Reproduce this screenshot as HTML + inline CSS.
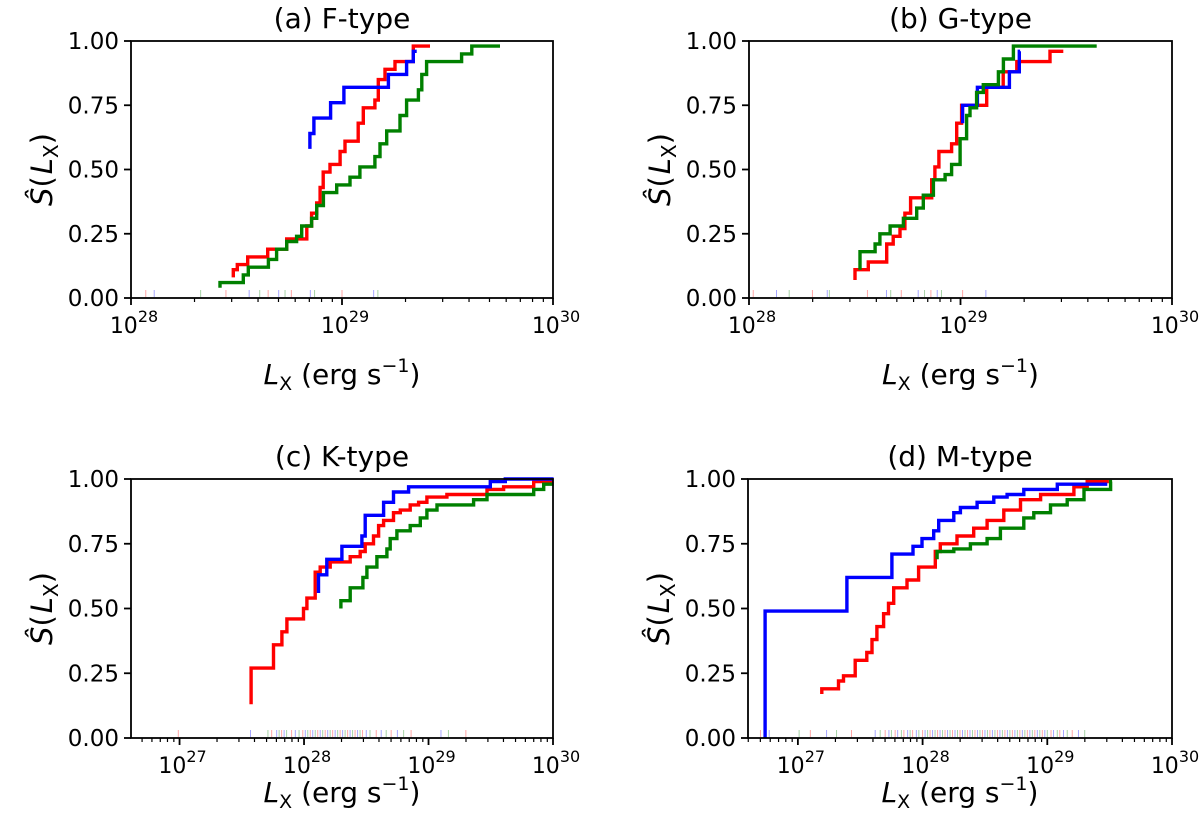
<!DOCTYPE html>
<html><head><meta charset="utf-8"><style>
html,body{margin:0;padding:0;background:#fff;}
svg{display:block;font-family:"DejaVu Sans","Liberation Sans",sans-serif;}
</style></head><body>
<svg id="fig" width="1200" height="831" viewBox="0 0 1200 831"></svg>
<script>
// ---- data (x values are log10 L_X; S values are survival estimates) ----
const aRedX=[28.485,28.504,28.553,28.648,28.738,28.833,28.856,28.880,28.896,28.911,28.943,28.991,29.014,29.077,29.101,29.156,29.172,29.204,29.251,29.338,29.417];
const aRedS=[0.08,0.13,0.16,0.19,0.23,0.28,0.33,0.37,0.43,0.49,0.52,0.57,0.61,0.68,0.74,0.77,0.85,0.89,0.92,0.98];
const aBlueX=[28.848,28.867,28.946,29.009,29.220,29.306,29.338,29.354];
const aBlueS=[0.58,0.70,0.76,0.82,0.87,0.92,0.96];
const aGreenX=[28.422,28.532,28.556,28.651,28.690,28.738,28.785,28.809,28.856,28.880,28.912,28.975,29.038,29.085,29.156,29.180,29.212,29.275,29.306,29.362,29.378,29.401,29.567,29.615,29.749];
const aGreenS=[0.04,0.09,0.12,0.15,0.19,0.22,0.24,0.28,0.31,0.36,0.41,0.44,0.47,0.51,0.55,0.60,0.65,0.71,0.77,0.81,0.87,0.92,0.95,0.98];
const bRedX=[28.501,28.564,28.651,28.682,28.714,28.737,28.764,28.864,28.879,28.898,28.958,28.982,29.005,29.124,29.202,29.266,29.423,29.486];
const bRedS=[0.07,0.14,0.21,0.24,0.27,0.33,0.39,0.46,0.51,0.57,0.60,0.68,0.75,0.82,0.88,0.92,0.96];
const bBlueX=[29.010,29.080,29.231,29.278,29.282];
const bBlueS=[0.68,0.82,0.88,0.96];
const bGreenX=[28.525,28.596,28.619,28.667,28.730,28.793,28.824,28.872,28.927,28.958,28.998,29.029,29.045,29.076,29.108,29.179,29.203,29.250,29.313,29.644];
const bGreenS=[0.11,0.21,0.25,0.28,0.31,0.35,0.40,0.46,0.48,0.52,0.62,0.71,0.74,0.80,0.83,0.88,0.93,0.98,0.98];
const cRedX=[27.575,27.755,27.822,27.862,27.996,28.023,28.090,28.130,28.210,28.371,28.451,28.491,28.558,28.599,28.639,28.719,28.773,28.853,28.920,28.987,29.148,29.470,29.603,29.845,30.005];
const cRedS=[0.13,0.36,0.41,0.46,0.50,0.54,0.64,0.66,0.68,0.70,0.72,0.75,0.78,0.82,0.84,0.87,0.88,0.90,0.91,0.93,0.94,0.96,0.97,0.99];
const cBlueX=[28.116,28.183,28.304,28.465,28.491,28.639,28.719,28.840,29.496,29.617,30.005];
const cBlueS=[0.56,0.69,0.74,0.78,0.86,0.91,0.95,0.97,0.99,1.00];
const cGreenX=[28.296,28.371,28.473,28.505,28.585,28.666,28.692,28.746,28.853,28.934,28.987,29.068,29.362,29.470,29.845,29.925,30.005];
const cGreenS=[0.50,0.58,0.62,0.66,0.70,0.73,0.77,0.80,0.82,0.85,0.88,0.90,0.92,0.94,0.96,0.98];
const dRedX=[27.192,27.326,27.366,27.460,27.553,27.594,27.634,27.687,27.727,27.768,27.875,27.968,28.102,28.142,28.276,28.410,28.517,28.651,28.785,28.946,29.213,29.320,29.494];
const dRedS=[0.17,0.22,0.24,0.30,0.33,0.38,0.43,0.48,0.52,0.58,0.61,0.66,0.72,0.75,0.78,0.81,0.84,0.88,0.92,0.94,0.97,0.99];
const dBlueX=[26.737,27.393,27.754,27.923,27.995,28.089,28.129,28.250,28.303,28.437,28.571,28.678,28.812,29.080,29.481];
const dBlueS=[0.00,0.62,0.71,0.74,0.77,0.80,0.84,0.87,0.89,0.91,0.93,0.94,0.96,0.98];
const dGreenX=[28.116,28.250,28.383,28.517,28.624,28.812,28.892,29.026,29.160,29.294,29.508,29.52];
const dGreenS=[0.69,0.73,0.75,0.77,0.81,0.85,0.87,0.90,0.92,0.96,0.99];
const startS={a:[0.11,0.64,0.06],b:[0.11,0.75,0.18],c:[0.27,0.63,0.53],d:[0.19,0.49,0.72]};
const rugA=[28.07,28.11,28.33,28.45,28.56,28.61,28.65,28.70,28.73,28.76,28.85,28.87,29.00,29.15,29.17];
const rugB=[28.02,28.13,28.19,28.30,28.37,28.38,28.56,28.65,28.67,28.72,28.80,28.83,28.86,28.89,28.91,29.01,29.12];
const rugC=[26.99,27.57,27.71,27.74,27.78,27.80,27.82,27.84,27.86,27.90,27.93,27.96,27.99,28.01,28.03,28.05,28.07,28.09,28.11,28.13,28.15,28.17,28.19,28.21,28.23,28.25,28.27,28.29,28.31,28.33,28.35,28.37,28.39,28.41,28.43,28.45,28.47,28.50,28.53,28.58,28.62,28.66,28.70,28.75,28.80,28.86,29.10,29.16,29.30];
const rugD=[26.70,26.77,27.01,27.10,27.23,27.31,27.43,27.62,27.66,27.70,27.73,27.75,27.78,27.80,27.83,27.85,27.88,27.90,27.92,27.95,27.97,28.00,28.02,28.04,28.06,28.08,28.10,28.12,28.14,28.16,28.18,28.20,28.22,28.24,28.26,28.28,28.30,28.32,28.34,28.36,28.38,28.40,28.42,28.44,28.46,28.48,28.50,28.52,28.54,28.56,28.58,28.60,28.62,28.64,28.66,28.68,28.70,28.72,28.74,28.76,28.78,28.80,28.82,28.84,28.86,28.88,28.90,28.92,28.94,28.96,28.98,29.00,29.03,29.05,29.08,29.10,29.13,29.16,29.20,29.25,29.30];
const yTicks=["0.00","0.25","0.50","0.75","1.00"];
const titles=["(a) F-type","(b) G-type","(c) K-type","(d) M-type"];

const NS="http://www.w3.org/2000/svg";
const svg=document.getElementById('fig');
function mk(tag,attrs,parent){const e=document.createElementNS(NS,tag);for(const k in attrs)e.setAttribute(k,attrs[k]);(parent||svg).appendChild(e);return e;}
const panels=[
 {id:'a',L:131,R:553,T:41,B:298,xmin:28,xmax:30,xt:86,series:[[aRedX,aRedS],[aBlueX,aBlueS],[aGreenX,aGreenS]],rug:rugA},
 {id:'b',L:749,R:1172,T:41,B:298,xmin:28,xmax:30,xt:86,series:[[bRedX,bRedS],[bBlueX,bBlueS],[bGreenX,bGreenS]],rug:rugB},
 {id:'c',L:131,R:553,T:479,B:738,xmin:26.61,xmax:30,xt:64,series:[[cRedX,cRedS],[cBlueX,cBlueS],[cGreenX,cGreenS]],rug:rugC},
 {id:'d',L:748,R:1172,T:479,B:738,xmin:26.6,xmax:30,xt:64,series:[[dRedX,dRedS],[dBlueX,dBlueS],[dGreenX,dGreenS]],rug:rugD}
];
const colors=['#ff0000','#0000ff','#008000'];
const names=['red','blue','green'];
const rugCols=['rgba(255,0,0,0.35)','rgba(0,0,255,0.35)','rgba(0,128,0,0.35)'];
panels.forEach((p,pi)=>{
 const g=mk('g',{});
 
 
 const xs=v=>p.L+(v-p.xmin)/(p.xmax-p.xmin)*(p.R-p.L);
 const ys=v=>p.B-v*(p.B-p.T)/1.0;
 p.rug.forEach((v,i)=>{const r=mk('line',{x1:xs(v),x2:xs(v),y1:p.B-1,y2:p.B-8,stroke:rugCols[i%3],'stroke-width':1},g);
  
  });
 p.series.forEach((s,si)=>{
  const X=s[0],S=s[1];
  let d='M'+xs(X[0]).toFixed(1)+' '+ys(S[0]).toFixed(1)+' V'+ys(startS[p.id][si]).toFixed(1);
  for(let i=1;i<X.length;i++){
   d+=' H'+xs(X[i]).toFixed(1);
   if(i<S.length){ d+=' V'+ys(S[i]).toFixed(1);}
  }
  const path=mk('path',{d:d,fill:'none',stroke:colors[si],'stroke-width':3.4,'stroke-linejoin':'miter'},g);
  
  
 });
 const fr=mk('rect',{x:p.L,y:p.T,width:p.R-p.L,height:p.B-p.T,fill:'none',stroke:'#000','stroke-width':1.8},g);
 
 
 yTicks.forEach(t=>{const v=parseFloat(t);const y=ys(v);
  mk('line',{x1:p.L-7,x2:p.L,y1:y,y2:y,stroke:'#000','stroke-width':1.8},g);
  const tx=mk('text',{x:p.L-12,y:y+8,'text-anchor':'end','font-size':23},g);tx.textContent=t;
  
  });
 for(let dec=Math.floor(p.xmin);dec<=p.xmax;dec++){
  for(let m=1;m<10;m++){const v=dec+Math.log10(m);if(v<p.xmin-1e-6||v>p.xmax+1e-6)continue;
   const x=xs(v);mk('line',{x1:x,x2:x,y1:p.B,y2:p.B+(m==1?7:4),stroke:'#000','stroke-width':m==1?1.8:1.2},g);
   if(m==1){const tx=mk('text',{x:x+3,y:p.B+35,'text-anchor':'middle','font-size':22},g);
    tx.innerHTML='10<tspan dy="-11" font-size="16">'+dec+'</tspan>';
    
    }
  }
 }
 const cx=(p.L+p.R)/2;
 const tt=mk('text',{x:cx,y:p.T-13,'text-anchor':'middle','font-size':28},g);tt.textContent=titles[pi];
 
 
 const xl=mk('text',{x:cx,y:p.B+p.xt,'text-anchor':'middle','font-size':28},g);
 xl.innerHTML='<tspan font-style="italic">L</tspan><tspan font-size="19" dy="6">X</tspan><tspan dy="-6"> (erg s</tspan><tspan dy="-12" font-size="19">−1</tspan><tspan dy="12">)</tspan>';
 
 
 const cy=(p.T+p.B)/2;
 const yl=mk('text',{x:0,y:0,'text-anchor':'middle','font-size':29,transform:'translate('+(p.L-79)+','+cy+') rotate(-90)'},g);
 yl.innerHTML='<tspan font-style="italic">Ŝ</tspan><tspan>(</tspan><tspan font-style="italic" dx="2">L</tspan><tspan font-size="20" dy="6">X</tspan><tspan dy="-6">)</tspan>';
 
 
});
</script>
</body></html>
